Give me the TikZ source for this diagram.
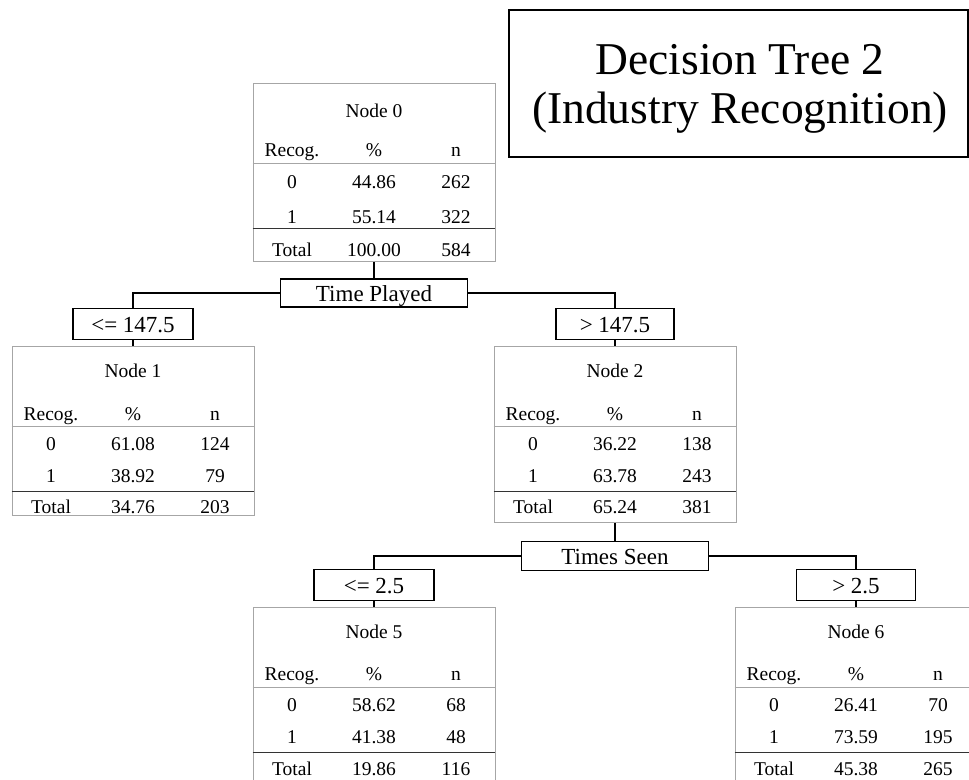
\documentclass[tikz,border=0pt]{standalone}
\usepackage{fontspec}
\setmainfont{Liberation Serif}
\tikzset{
  tbl/.style={draw=gray!70, line width=0.9pt, minimum width=242pt, inner sep=0pt, anchor=north},
  lbl/.style={draw=black, line width=1.8pt, font=\fontsize{23}{24}\selectfont, inner sep=0pt,
              text height=19pt, text depth=2pt},
  conn/.style={line width=1.8pt, draw=black},
  cell/.style={font=\fontsize{19.5}{21}\selectfont, anchor=base, inner sep=0pt},
  hline/.style={draw=gray!70, line width=0.9pt},
  tline/.style={draw=black!80, line width=0.9pt},
}
% baseline offsets below the top: title, header, row 0, row 1, total
\newcommand{\setoffs}[5]{\def\oT{#1}\def\oH{#2}\def\oA{#3}\def\oB{#4}\def\oC{#5}}
% #1 name, #2 centre x, #3 top y, #4 height, #5 title
\newcommand{\dtbl}[5]{%
  \node[tbl, minimum height=#4pt] (#1) at (#2,-#3) {};
  \node[cell] (#1t) at (#2,{-#3-\oT}) {#5};
  \node[cell] (#1h1) at ({#2-82},{-#3-\oH}) {Recog.};
  \node[cell] (#1h2) at (#2,{-#3-\oH}) {\%};
  \node[cell] (#1h3) at ({#2+82},{-#3-\oH}) {n};
  \draw[hline] ([yshift=-80pt]#1.north west) -- ([yshift=-80pt]#1.north east);
  \draw[tline] ([yshift=-145pt]#1.north west) -- ([yshift=-145pt]#1.north east);
}
% #1 name, #2 centre x, #3 top y, #4 pct0, #5 n0, #6 pct1, #7 n1, #8 pctT, #9 nT
\newcommand{\drows}[9]{%
  \node[cell] (#1a1) at ({#2-82},{-#3-\oA}) {0};
  \node[cell] (#1a2) at (#2,{-#3-\oA}) {#4};
  \node[cell] (#1a3) at ({#2+82},{-#3-\oA}) {#5};
  \node[cell] (#1b1) at ({#2-82},{-#3-\oB}) {1};
  \node[cell] (#1b2) at (#2,{-#3-\oB}) {#6};
  \node[cell] (#1b3) at ({#2+82},{-#3-\oB}) {#7};
  \node[cell] (#1c1) at ({#2-82},{-#3-\oC}) {Total};
  \node[cell] (#1c2) at (#2,{-#3-\oC}) {#8};
  \node[cell] (#1c3) at ({#2+82},{-#3-\oC}) {#9};
}
\begin{document}
\begin{tikzpicture}[x=1pt,y=1pt]
  \clip (0,0) rectangle (969,-779);
  \fill[white] (0,0) rectangle (969,-779);

  % title
  \node[draw=black, line width=1.6pt, minimum width=459pt, minimum height=147pt, inner sep=0pt]
    (titlebox) at (738.5,-83.5) {};
  \node[anchor=base, font=\fontsize{45.5}{49}\selectfont, inner sep=0pt] (title1) at (740,-74) {Decision Tree 2};
  \node[anchor=base, font=\fontsize{45.5}{49}\selectfont, inner sep=0pt] (title2) at (740,-123) {(Industry Recognition)};

  % tables
  \setoffs{34}{73}{105}{140}{173}
  \dtbl{n0}{374}{83}{178}{Node 0}
  \drows{n0}{374}{83}{44.86}{262}{55.14}{322}{100.00}{584}
  \setoffs{31}{74}{104}{136}{167}
  \dtbl{n1}{133}{346}{169}{Node 1}
  \drows{n1}{133}{346}{61.08}{124}{38.92}{79}{34.76}{203}
  \dtbl{n2}{615}{346}{176}{Node 2}
  \drows{n2}{615}{346}{36.22}{138}{63.78}{243}{65.24}{381}
  \setoffs{31}{73}{104}{136}{168}
  \dtbl{n5}{374}{607}{180}{Node 5}
  \drows{n5}{374}{607}{58.62}{68}{41.38}{48}{19.86}{116}
  \dtbl{n6}{856}{607}{180}{Node 6}
  \drows{n6}{856}{607}{26.41}{70}{73.59}{195}{45.38}{265}

  % split labels
  \node[lbl, minimum width=187pt, minimum height=28pt] (tp) at (374,-293) {Time Played};
  \node[lbl, minimum width=120pt, minimum height=31pt] (l1) at (133,-324) {<= 147.5};
  \node[lbl, minimum width=118pt, minimum height=31pt] (r1) at (615,-324) {> 147.5};
  \node[lbl, minimum width=187pt, minimum height=29pt] (ts) at (615,-556) {Times Seen};
  \node[lbl, minimum width=120pt, minimum height=31pt] (l2) at (374,-585) {<= 2.5};
  \node[lbl, minimum width=119pt, minimum height=31pt] (r2) at (856,-585) {> 2.5};

  % connectors
  \draw[conn] (n0.south) -- (tp.north);
  \draw[conn] (tp.west) -| (l1.north);
  \draw[conn] (tp.east) -| (r1.north);
  \draw[conn] (l1.south) -- (n1.north);
  \draw[conn] (r1.south) -- (n2.north);
  \draw[conn] (n2.south) -- (ts.north);
  \draw[conn] (ts.west) -| (l2.north);
  \draw[conn] (ts.east) -| (r2.north);
  \draw[conn] (l2.south) -- (n5.north);
  \draw[conn] (r2.south) -- (n6.north);
\end{tikzpicture}
\end{document}
